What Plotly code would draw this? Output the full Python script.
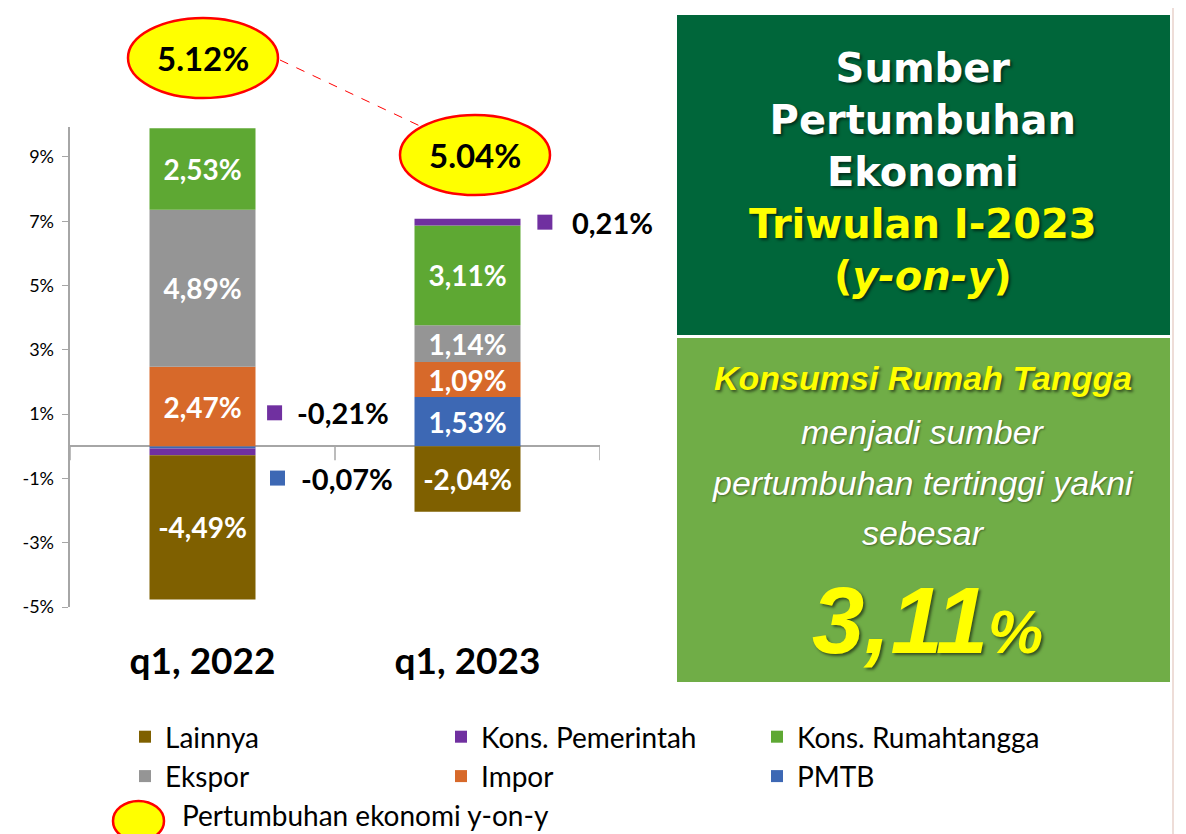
import plotly.graph_objects as go

# sumber pertumbuhan ekonomi (y-on-y), persen
periods = ["q1, 2022", "q1, 2023"]
pmtb = [-0.07, 1.53]
impor = [2.47, 1.09]
ekspor = [4.89, 1.14]
kons_rt = [2.53, 3.11]
kons_pem = [-0.21, 0.21]
lainnya = [-4.49, -2.04]
growth = [5.12, 5.04]
y_ticks = [-5, -3, -1, 1, 3, 5, 7, 9]

OFF = 8  # page body margin
W, H = 1186 - 2 * OFF, 834 - OFF
PL, PT, PW, PH = 70, 127, 530, 480  # plot area in screen pixels


def px(x):
    return (x - PL) / PW


def py(y):
    return (PT + PH - y) / PH


def pct(v):
    return f"{v:.2f}".replace(".", ",") + "%"


def inside_text(vals):
    # small segments get their label outside the bar
    return [pct(v) if abs(v) >= 0.5 else "" for v in vals]


LATO = "Lato"
series = [
    # name, values, colour, legend rank
    ("PMTB", pmtb, "#3D68B4", 6),
    ("Impor", impor, "#D7692A", 5),
    ("Ekspor", ekspor, "#959595", 4),
    ("Kons. Rumahtangga", kons_rt, "#5EA833", 3),
    ("Kons. Pemerintah", kons_pem, "#7030A0", 2),
    ("Lainnya", lainnya, "#7F6000", 1),
]

fig = go.Figure()
for name, vals, color, rank in series:
    fig.add_trace(
        go.Bar(
            x=periods,
            y=vals,
            name=name,
            marker=dict(color=color, line=dict(width=0)),
            text=inside_text(vals),
            textposition="inside",
            insidetextanchor="middle",
            textangle=0,
            textfont=dict(family=LATO, size=28, color="white", weight="bold"),
            legendrank=rank,
            hoverinfo="skip",
        )
    )

shapes = []
annotations = []


def note(x, y, text, font, xanchor="center", yanchor="middle", xref="paper", yref="paper"):
    annotations.append(dict(xref=xref, yref=yref, x=x, y=y, text=text, showarrow=False,
                            xanchor=xanchor, yanchor=yanchor, font=font))


# growth ellipses + dashed connector
ellipses = [(128, 278, 18, 98), (400, 550, 115, 195)]
for (x0, x1, y0, y1), g in zip(ellipses, growth):
    shapes.append(dict(type="circle", xref="paper", yref="paper",
                       x0=px(x0), x1=px(x1), y0=py(y1), y1=py(y0),
                       fillcolor="#FFFF00", line=dict(color="#FF0000", width=2.5)))
    note(px((x0 + x1) / 2), py((y0 + y1) / 2), f"<b>{g:.2f}%</b>",
         dict(family=LATO, size=33, color="black"))
shapes.append(dict(type="line", xref="paper", yref="paper",
                   x0=px(280), y0=py(60), x1=px(420), y1=py(126),
                   line=dict(color="#FF0000", width=1, dash="dash")))

# category boundary ticks on the zero line
for xb in [-0.5, 0.5, 1.5]:
    shapes.append(dict(type="line", xref="x", yref="y", ysizemode="pixel", yanchor=0,
                       x0=xb, x1=xb, y0=-14, y1=0, line=dict(color="#A6A6A6", width=1.5)))

# labels for the thin segments
outside = [
    (0.272, 1.04, 0.350, kons_pem[0], "#7030A0"),
    (0.283, -0.99, 0.365, pmtb[0], "#3D68B4"),
    (1.292, 6.97, 1.385, kons_pem[1], "#7030A0"),
]
for sx, sy, tx, v, color in outside:
    shapes.append(dict(type="rect", xref="x", yref="y", xsizemode="pixel", ysizemode="pixel",
                       xanchor=sx, yanchor=sy, x0=-7.5, x1=7.5, y0=-7.5, y1=7.5,
                       fillcolor=color, line=dict(width=0)))
    note(tx, sy, f"<b>{pct(v)}</b>", dict(family=LATO, size=29, color="black"),
         xanchor="left", xref="x", yref="y")

# right-hand panels
shapes.append(dict(type="rect", xref="paper", yref="paper", layer="below",
                   x0=px(677), x1=px(1170), y0=py(335), y1=py(15),
                   fillcolor="#00663A", line=dict(width=0)))
shapes.append(dict(type="rect", xref="paper", yref="paper", layer="below",
                   x0=px(677), x1=px(1170), y0=py(682), y1=py(338),
                   fillcolor="#70AD47", line=dict(width=0)))
shapes.append(dict(type="line", xref="paper", yref="paper",
                   x0=px(1173), x1=px(1173), y0=py(834), y1=py(0),
                   line=dict(color="#EEDDD8", width=2)))

shadow = "2px 2px 3px rgba(0,0,0,0.55)"
cx = px(923)
note(cx, py(172),
     "Sumber<br>Pertumbuhan<br>Ekonomi<br>"
     "<span style='color:#FFFF00'>Triwulan I-2023</span><br>"
     "<span style='color:#FFFF00'>(<i>y-on-y</i>)</span>",
     dict(family="DejaVu Sans", size=40, color="white", weight="bold", shadow=shadow))
note(cx, py(378), "Konsumsi Rumah Tangga",
     dict(family="Liberation Sans", size=34, color="#FFFF00", weight="bold",
          style="italic", shadow=shadow))
for line, yy in [("menjadi sumber", 432), ("pertumbuhan tertinggi yakni", 483), ("sebesar", 533)]:
    note(cx, py(yy), line,
         dict(family="Liberation Sans", size=34, color="white", style="italic",
              shadow="1px 1px 2px rgba(0,0,0,0.4)"))
big = pct(kons_rt[1]).rstrip("%")
note(px(927), py(620), f"{big}<span style='font-size:62px'>%</span>",
     dict(family="Liberation Sans", size=94, color="#FFFF00", weight="bold",
          style="italic", shadow=shadow))

# legend entry for the ellipse
shapes.append(dict(type="circle", xref="paper", yref="paper",
                   x0=px(113), x1=px(164), y0=py(841), y1=py(801),
                   fillcolor="#FFFF00", line=dict(color="#FF0000", width=2.5)))
note(px(180), py(815), "Pertumbuhan ekonomi y-on-y",
     dict(family=LATO, size=28, color="black"), xanchor="left")

fig.update_layout(
    width=W,
    height=H,
    margin=dict(l=PL - OFF, r=W - (PL - OFF) - PW, t=PT - OFF, b=H - (PT - OFF) - PH,
                autoexpand=False),
    paper_bgcolor="white",
    plot_bgcolor="white",
    barmode="relative",
    bargap=0.6,
    shapes=shapes,
    annotations=annotations,
    legend=dict(
        orientation="h",
        x=px(1073), xanchor="right",
        y=py(712), yanchor="top",
        entrywidth=271, entrywidthmode="pixels",
        font=dict(family=LATO, size=28, color="black"),
        bgcolor="rgba(0,0,0,0)",
    ),
    xaxis=dict(
        range=[-0.5, 1.5],
        showline=False,
        ticks="",
        showgrid=False,
        tickfont=dict(family=LATO, size=37, color="black", weight="bold"),
        ticklabelstandoff=29,
    ),
    yaxis=dict(
        range=[-5, 9.93],
        tickvals=y_ticks,
        ticktext=[f"{v}%&nbsp;" for v in y_ticks],
        showgrid=False,
        showline=True,
        linecolor="#A6A6A6",
        linewidth=1.5,
        ticks="outside",
        ticklen=6,
        tickcolor="#A6A6A6",
        zeroline=True,
        zerolinecolor="#A6A6A6",
        zerolinewidth=1.5,
        tickfont=dict(family=LATO, size=18, color="black"),
    ),
    uniformtext=dict(minsize=28, mode="show"),
)

fig.write_html("out.html")
